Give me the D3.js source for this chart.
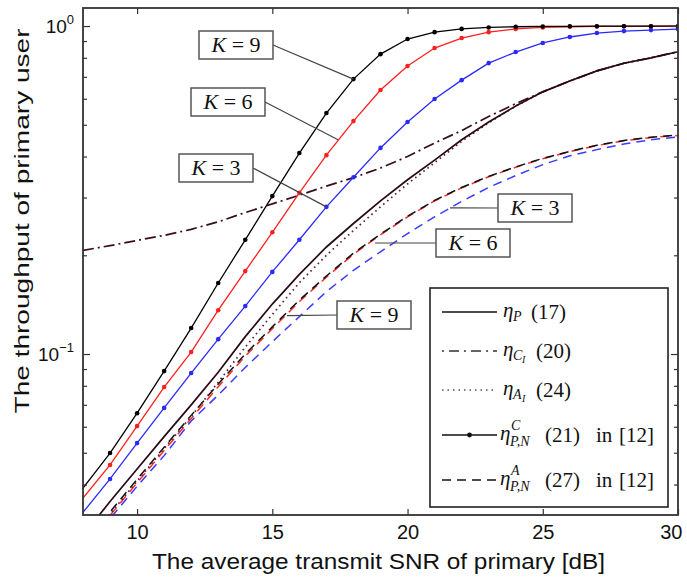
<!DOCTYPE html>
<html><head><meta charset="utf-8">
<script src="https://cdn.jsdelivr.net/npm/d3@7"></script>
<style>body{margin:0;background:#fff}</style>
</head><body>
<svg id="c" width="687" height="582"></svg>
<script>
// ---------- data ----------
const snr = [8,9,10,11,12,13,14,15,16,17,18,19,20,21,22,23,24,25,26,27,28,29,30];
// eta^C_{P,N} (21) in [12], markers
const etaCPN_K9 = [0.039,0.0499,0.066,0.0887,0.120,0.1646,0.223,0.303,0.410,0.543,0.689,0.821,0.913,0.958,0.980,0.990,0.995,0.997,0.998,0.999,0.999,0.999,0.999];
const etaCPN_K6 = [0.0364,0.0459,0.0603,0.0793,0.1014,0.136,0.179,0.235,0.310,0.404,0.513,0.638,0.755,0.857,0.919,0.958,0.980,0.990,0.995,0.997,0.998,0.999,0.999];
const etaCPN_K3 = [0.0329,0.0416,0.0535,0.0685,0.0875,0.111,0.140,0.178,0.223,0.281,0.346,0.425,0.510,0.599,0.684,0.771,0.833,0.888,0.926,0.952,0.965,0.972,0.979];
// eta_P (17)
const etaP = [0.028,0.0355,0.0446,0.056,0.070,0.088,0.113,0.142,0.175,0.212,0.250,0.293,0.340,0.390,0.450,0.510,0.570,0.630,0.680,0.730,0.770,0.800,0.835];
// eta_{C_I} (20)
const etaCI = [0.207,0.214,0.222,0.230,0.240,0.253,0.270,0.287,0.305,0.325,0.345,0.369,0.400,0.440,0.480,0.530,0.580,0.630,0.680,0.730,0.770,0.800,0.835];
// eta_{A_I} (24)
const etaAI = [0.0255,0.0325,0.041,0.0515,0.0645,0.082,0.105,0.132,0.165,0.200,0.238,0.281,0.330,0.383,0.445,0.507,0.570,0.630,0.680,0.730,0.770,0.800,0.835];
// eta^A_{P,N} (27) in [12]
const etaAPN_K9 = [0.026,0.033,0.0415,0.052,0.065,0.081,0.100,0.121,0.146,0.173,0.203,0.232,0.263,0.294,0.322,0.348,0.372,0.395,0.415,0.433,0.448,0.458,0.465];
const etaAPN_K6 = [0.0252,0.0322,0.0405,0.0508,0.0636,0.0795,0.0985,0.1195,0.1445,0.1715,0.2015,0.231,0.262,0.293,0.321,0.347,0.371,0.394,0.414,0.432,0.447,0.457,0.464];
const etaAPN_K3 = [0.025,0.0315,0.0395,0.049,0.0625,0.075,0.091,0.109,0.130,0.155,0.180,0.205,0.233,0.262,0.292,0.322,0.350,0.378,0.402,0.420,0.437,0.450,0.459];

const xTickValues = [10,15,20,25,30];
const yMajorTicks = [0.1, 1];
const yMajorExp = ["\u22121", "0"];
const yMinorTicks = [0.04,0.05,0.06,0.07,0.08,0.09,0.2,0.3,0.4,0.5,0.6,0.7,0.8,0.9];

const xLabel = "The average transmit SNR of primary [dB]";
const yLabel = "The throughput of primary user";

// annotations: label, anchor (data coords), box (px)
const annots = [
  {k:"9", ax:18, ay:0.689, bx:199, by:31},
  {k:"6", ax:17.43, ay:0.45, bx:191, by:88},
  {k:"3", ax:17.0, ay:0.281, bx:179, by:154},
  {k:"3", ax:21.57, ay:0.279, bx:498, by:194},
  {k:"6", ax:18.8, ay:0.218, bx:436, by:229},
  {k:"9", ax:15.54, ay:0.131, bx:337, by:301}
];

// ---------- layout ----------
const L=83, R=678, T=8, B=515;
const svg = d3.select("#c");
const x = d3.scaleLinear().domain([8,30]).range([L,R]);
const y = d3.scaleLog().domain([0.0323,1.135]).range([B,T]);

svg.append("defs").append("clipPath").attr("id","clip")
  .append("rect").attr("x",L).attr("y",T).attr("width",R-L).attr("height",B-T);

const plot = svg.append("g").attr("clip-path","url(#clip)");
const line = d3.line().x(d=>x(d[0])).y(d=>y(d[1]));
const pts = arr => snr.map((s,i)=>[s,arr[i]]);

function drawLine(arr, color, width, dash){
  plot.append("path").attr("d", line(pts(arr))).attr("fill","none")
    .attr("stroke",color).attr("stroke-width",width)
    .attr("stroke-dasharray", dash||null);
}
// dashed eta^A_{P,N}
drawLine(etaAPN_K3, "#3b3bff", 1.5, "9,6");
drawLine(etaAPN_K6, "#ff2a2a", 1.5, "9,6");
drawLine(etaAPN_K9, "#111", 1.5, "9,6");
// dotted, dash-dot, solid
drawLine(etaAI, "#5a2035", 1.7, "1.6,3.6");
drawLine(etaCI, "#3a0c1c", 1.7, "11,4,2,4");
drawLine(etaP, "#2a0a12", 1.7);
// marker curves
[[etaCPN_K3,"#2a2aff"],[etaCPN_K6,"#ff1f1f"],[etaCPN_K9,"#000"]].forEach(([arr,c])=>{
  drawLine(arr, c, 1.3);
  plot.selectAll(null).data(pts(arr).filter(d=>d[0]>8)).enter().append("circle")
    .attr("cx",d=>x(d[0])).attr("cy",d=>y(d[1])).attr("r",2.3).attr("fill",c);
});

// ---------- axes ----------
const axCol="#333";
const gb = svg.append("g").attr("transform",`translate(0,${B})`)
  .call(d3.axisBottom(x).tickValues(xTickValues).tickSizeInner(-6).tickSizeOuter(0).tickPadding(10));
gb.selectAll("text").attr("font-family","Liberation Sans, Arial, sans-serif").attr("font-size",20).attr("fill","#111");
gb.selectAll(".tick").filter(d=>d===30).select("text").attr("text-anchor","end").attr("dx",4);
const gt = svg.append("g").attr("transform",`translate(0,${T})`)
  .call(d3.axisTop(x).tickValues(xTickValues).tickSizeInner(-6).tickSizeOuter(0).tickFormat(""));
const gl = svg.append("g").attr("transform",`translate(${L},0)`)
  .call(d3.axisLeft(y).tickValues(yMajorTicks).tickSizeInner(-7).tickSizeOuter(0).tickFormat(""));
const gl2 = svg.append("g").attr("transform",`translate(${L},0)`)
  .call(d3.axisLeft(y).tickValues(yMinorTicks).tickSizeInner(-4).tickSizeOuter(0).tickFormat(""));
const gr = svg.append("g").attr("transform",`translate(${R},0)`)
  .call(d3.axisRight(y).tickValues(yMajorTicks).tickSizeInner(-7).tickSizeOuter(0).tickFormat(""));
const gr2 = svg.append("g").attr("transform",`translate(${R},0)`)
  .call(d3.axisRight(y).tickValues(yMinorTicks).tickSizeInner(-4).tickSizeOuter(0).tickFormat(""));
[gb,gt,gl,gl2,gr,gr2].forEach(g=>{g.select(".domain").remove(); g.selectAll("line").attr("stroke",axCol).attr("stroke-width",1.2);});
svg.append("rect").attr("x",L).attr("y",T).attr("width",R-L).attr("height",B-T)
  .attr("fill","none").attr("stroke",axCol).attr("stroke-width",1.8);

// y tick labels 10^e
yMajorTicks.forEach((v,i)=>{
  const t = svg.append("text").attr("x",74).attr("y",y(v)+7).attr("text-anchor","end")
    .attr("font-family","Liberation Sans, Arial, sans-serif").attr("font-size",19).attr("fill","#111");
  t.append("tspan").text("10");
  t.append("tspan").attr("font-size",13).attr("dy",-9).text(yMajorExp[i]);
});

// axis labels
svg.append("text").attr("x",(L+R)/2-2).attr("y",569).attr("text-anchor","middle")
  .attr("font-family","Liberation Sans, Arial, sans-serif").attr("font-size",22).attr("fill","#111")
  .attr("textLength",453).attr("lengthAdjust","spacingAndGlyphs").text(xLabel);
svg.append("text").attr("transform","translate(29,221) rotate(-90)").attr("text-anchor","middle")
  .attr("font-family","Liberation Sans, Arial, sans-serif").attr("font-size",21).attr("fill","#111")
  .attr("textLength",385).attr("lengthAdjust","spacingAndGlyphs").text(yLabel);

// ---------- annotations ----------
const serif = "Liberation Serif, Times New Roman, serif";
annots.forEach(a=>{
  const bw=74, bh=28;
  const ax=x(a.ax), ay=y(a.ay);
  const bcx = a.bx + bw/2, bcy=a.by+bh/2;
  const sx = ax > bcx ? a.bx+bw : a.bx;
  svg.append("line").attr("x1",sx).attr("y1",bcy).attr("x2",ax).attr("y2",ay)
    .attr("stroke","#444").attr("stroke-width",1.2);
  svg.append("rect").attr("x",a.bx).attr("y",a.by).attr("width",bw).attr("height",bh)
    .attr("fill","#fff").attr("stroke","#555").attr("stroke-width",1.5);
  const t = svg.append("text").attr("x",bcx).attr("y",bcy+7).attr("text-anchor","middle")
    .attr("font-family",serif).attr("font-size",22).attr("fill","#111");
  t.append("tspan").attr("font-style","italic").text("K");
  t.append("tspan").text(" = " + a.k);
});

// ---------- legend ----------
const lg = svg.append("g");
lg.append("rect").attr("x",430).attr("y",288).attr("width",238).attr("height",219)
  .attr("fill","#fff").attr("stroke","#222").attr("stroke-width",1.6);
const rows = [312,351,390,435,480];
const lx1=442, lx2=497, tx=503;
const samp = (yy,color,dash,w)=>lg.append("line").attr("x1",lx1).attr("x2",lx2).attr("y1",yy).attr("y2",yy)
  .attr("stroke",color).attr("stroke-width",w||1.4).attr("stroke-dasharray",dash||null);
samp(rows[0],"#111");
samp(rows[1],"#333","2,5,10,5");
samp(rows[2],"#555","1.5,4");
samp(rows[3],"#111");
lg.append("circle").attr("cx",(lx1+lx2)/2).attr("cy",rows[3]).attr("r",2.4).attr("fill","#111");
samp(rows[4],"#111","9,6");

function lt(xx,yy,size,str,italic){
  return lg.append("text").attr("x",xx).attr("y",yy).attr("font-family",serif)
    .attr("font-size",size).attr("font-style",italic?"italic":"normal").attr("fill","#111").text(str);
}
const nf = 21;
// row 1
lt(tx,rows[0]+5,21,"\u03b7",true); lt(tx+10,rows[0]+9,14,"P",true); lt(tx+28,rows[0]+7,nf,"(17)");
// row 2
lt(tx,rows[1]+5,21,"\u03b7",true); lt(tx+10,rows[1]+9,14,"C",true); lt(tx+19,rows[1]+12,10,"I",true); lt(tx+33,rows[1]+7,nf,"(20)");
// row 3
lt(tx,rows[2]+5,21,"\u03b7",true); lt(tx+10,rows[2]+9,14,"A",true); lt(tx+19,rows[2]+12,10,"I",true); lt(tx+33,rows[2]+7,nf,"(24)");
// row 4
lt(tx-3,rows[3]+5,21,"\u03b7",true); lt(tx+8,rows[3]-5,14,"C",true); lt(tx+7,rows[3]+11,14,"P,N",true);
lt(tx+42,rows[3]+7,nf,"(21)"); lt(tx+93,rows[3]+7,nf,"in"); lt(tx+116,rows[3]+7,nf,"[12]");
// row 5
lt(tx-3,rows[4]+5,21,"\u03b7",true); lt(tx+8,rows[4]-5,14,"A",true); lt(tx+7,rows[4]+11,14,"P,N",true);
lt(tx+42,rows[4]+7,nf,"(27)"); lt(tx+93,rows[4]+7,nf,"in"); lt(tx+116,rows[4]+7,nf,"[12]");
</script>
</body></html>
